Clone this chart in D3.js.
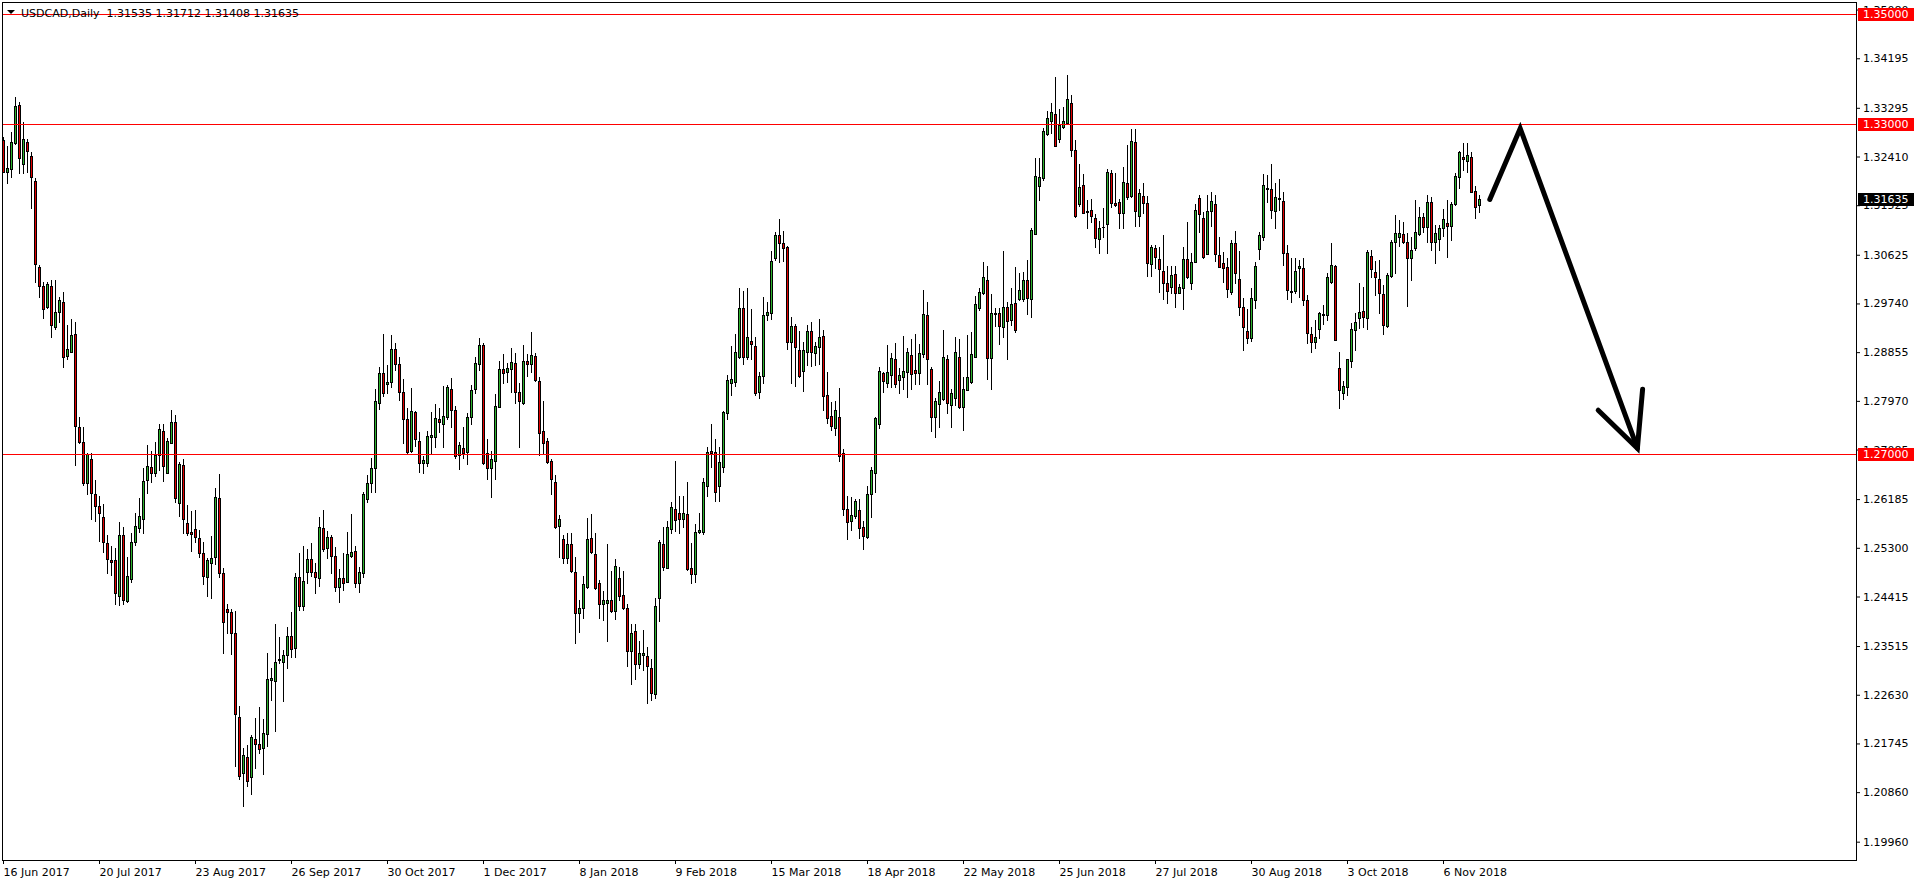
<!DOCTYPE html>
<html><head><meta charset="utf-8">
<script src="https://cdn.jsdelivr.net/npm/d3@7"></script>
<style>
html,body{margin:0;padding:0;background:#fff;}
svg{display:block;}
text{font-family:"DejaVu Sans",Verdana,sans-serif;font-size:11px;}
</style>
</head><body>
<svg id="chart" width="1916" height="884"></svg>
<script>
const symbolTitle = "USDCAD,Daily  1.31535 1.31712 1.31408 1.31635";
const dateLabels = ["16 Jun 2017","20 Jul 2017","23 Aug 2017","26 Sep 2017","30 Oct 2017","1 Dec 2017","8 Jan 2018","9 Feb 2018","15 Mar 2018","18 Apr 2018","22 May 2018","25 Jun 2018","27 Jul 2018","30 Aug 2018","3 Oct 2018","6 Nov 2018"];
const dateLabelBars = [0,24,48,72,96,120,144,168,192,216,240,264,288,312,336,360];
const priceTicks = [1.19960,1.20860,1.21745,1.22630,1.23515,1.24415,1.25300,1.26185,1.27085,1.27970,1.28855,1.29740,1.30625,1.31525,1.32410,1.33295,1.34195,1.35080];
const levelLines = [1.35000,1.33000,1.27000];
const lastPrice = 1.31635;

const open = [1.32710,1.32134,1.32177,1.32661,1.33346,1.32267,1.32667,1.32419,1.31959,1.30396,1.30057,1.29681,1.30057,1.29306,1.29578,1.29766,1.28779,1.28863,1.29184,1.27495,1.27216,1.26471,1.26913,1.26271,1.26059,1.25853,1.25381,1.25078,1.25078,1.24424,1.25532,1.24339,1.24727,1.25399,1.25665,1.25817,1.26532,1.26774,1.26665,1.26986,1.27422,1.26653,1.27210,1.27580,1.26108,1.26798,1.25744,1.25587,1.25635,1.25472,1.25199,1.24763,1.25017,1.25139,1.26199,1.24836,1.24182,1.24127,1.23745,1.22219,1.21202,1.21492,1.21129,1.21819,1.21728,1.21656,1.21910,1.22897,1.22885,1.23267,1.23219,1.23352,1.23697,1.23485,1.24763,1.24248,1.24854,1.25090,1.24854,1.24745,1.25653,1.25302,1.25490,1.25145,1.24581,1.24745,1.24684,1.25157,1.25242,1.24654,1.24848,1.26180,1.26471,1.26744,1.27925,1.28470,1.28270,1.28306,1.28906,1.28633,1.28125,1.27634,1.27065,1.27761,1.27240,1.26847,1.26835,1.27307,1.27319,1.27640,1.27549,1.27670,1.28179,1.27804,1.26986,1.27107,1.27047,1.27682,1.28179,1.28633,1.28985,1.27028,1.26756,1.26877,1.27864,1.28543,1.28500,1.28555,1.28664,1.28137,1.27925,1.28688,1.28633,1.28785,1.28331,1.27422,1.27240,1.26883,1.26489,1.25702,1.25460,1.25120,1.25369,1.24854,1.24109,1.24200,1.24593,1.25472,1.25181,1.24654,1.24272,1.24303,1.24351,1.24157,1.24745,1.24442,1.24200,1.23431,1.23788,1.23182,1.23358,1.23334,1.23109,1.22637,1.24381,1.25363,1.24939,1.25635,1.25999,1.25926,1.25823,1.25908,1.24927,1.24818,1.25593,1.25593,1.26423,1.27059,1.27035,1.26423,1.26774,1.27744,1.28301,1.28319,1.28773,1.29652,1.28761,1.29058,1.28967,1.28137,1.28428,1.29530,1.29573,1.30560,1.30984,1.30833,1.30760,1.29034,1.29331,1.28894,1.28519,1.28852,1.29240,1.28846,1.28955,1.29149,1.28077,1.27695,1.27483,1.27671,1.27017,1.25999,1.25793,1.25878,1.25987,1.25672,1.25490,1.26272,1.26665,1.27544,1.28470,1.28289,1.28440,1.28725,1.28349,1.28410,1.28489,1.28804,1.28531,1.28470,1.28822,1.29530,1.28543,1.27671,1.27913,1.28004,1.28725,1.27895,1.28028,1.28761,1.27865,1.28168,1.28319,1.28773,1.29652,1.29924,1.30166,1.28755,1.29561,1.29561,1.29306,1.29682,1.29440,1.29742,1.29815,1.29815,1.30166,1.29815,1.31002,1.31875,1.32014,1.32813,1.33062,1.33183,1.32729,1.32941,1.33013,1.33377,1.32529,1.31541,1.31887,1.31420,1.31438,1.31287,1.30905,1.31123,1.31178,1.32105,1.31560,1.31578,1.31378,1.31923,1.31699,1.32668,1.31335,1.31693,1.31560,1.30451,1.30742,1.30542,1.30330,1.30106,1.30045,1.30269,1.29936,1.30027,1.30542,1.30118,1.30500,1.31650,1.31287,1.30633,1.31426,1.31547,1.30621,1.30469,1.30397,1.29942,1.30833,1.30179,1.29670,1.29246,1.29106,1.29803,1.30724,1.30942,1.31832,1.31814,1.31420,1.31632,1.31602,1.30663,1.29954,1.29966,1.30378,1.30378,1.29803,1.29179,1.29046,1.29270,1.29524,1.29530,1.30136,1.30421,1.28561,1.28119,1.28216,1.28700,1.29258,1.29470,1.29603,1.29470,1.30602,1.30318,1.30178,1.29906,1.29336,1.30239,1.30851,1.30942,1.30996,1.30851,1.30560,1.30742,1.30996,1.31305,1.31135,1.31590,1.30851,1.30911,1.31117,1.31208,1.31154,1.31547,1.32044,1.32407,1.32335,1.32395,1.31783,1.31535];
const high = [1.32770,1.32601,1.32861,1.33485,1.33406,1.33043,1.32722,1.32498,1.32013,1.30438,1.30135,1.30135,1.30166,1.30166,1.29857,1.29942,1.29348,1.29451,1.29396,1.27682,1.27495,1.27016,1.27028,1.26532,1.26247,1.26095,1.25532,1.25332,1.25290,1.25774,1.25684,1.25138,1.25562,1.25938,1.26198,1.26743,1.27167,1.27059,1.27216,1.27543,1.27543,1.27289,1.27804,1.27713,1.26865,1.26907,1.26077,1.25968,1.25987,1.25623,1.25411,1.25120,1.25514,1.26392,1.26641,1.24939,1.24278,1.24182,1.24151,1.22425,1.21668,1.21716,1.21898,1.22213,1.22413,1.22189,1.23394,1.23109,1.23915,1.23685,1.23443,1.23867,1.24133,1.24836,1.25211,1.25332,1.25272,1.25393,1.25017,1.25865,1.25987,1.25611,1.25532,1.25308,1.24914,1.25211,1.25587,1.25914,1.25338,1.24957,1.26320,1.26623,1.26937,1.28179,1.28591,1.29185,1.28621,1.29166,1.29015,1.28773,1.28361,1.27834,1.28197,1.27791,1.27410,1.26968,1.27422,1.27761,1.27913,1.27834,1.28246,1.28258,1.28379,1.27882,1.27228,1.27489,1.27743,1.28258,1.28773,1.29106,1.29027,1.27277,1.27059,1.28094,1.28694,1.28821,1.28652,1.28924,1.28845,1.28288,1.28979,1.28821,1.29215,1.28833,1.28397,1.27967,1.27289,1.26907,1.26623,1.25896,1.25532,1.25563,1.25563,1.25139,1.24351,1.24787,1.25835,1.25914,1.25563,1.24715,1.24521,1.25369,1.24884,1.25096,1.24945,1.24884,1.24278,1.23915,1.23915,1.23612,1.23806,1.23503,1.23273,1.24381,1.25441,1.25672,1.25787,1.26138,1.26877,1.26241,1.26241,1.26489,1.25393,1.25732,1.25926,1.26562,1.27138,1.27550,1.27277,1.27126,1.27792,1.28440,1.28973,1.29185,1.30015,1.29966,1.30015,1.29639,1.29137,1.28501,1.29851,1.29773,1.30693,1.31045,1.31275,1.31057,1.30790,1.29488,1.29367,1.29246,1.29034,1.29349,1.29409,1.29046,1.29458,1.29258,1.28489,1.27956,1.27968,1.28198,1.27095,1.26241,1.26229,1.26187,1.26181,1.25793,1.26423,1.26774,1.27671,1.28592,1.28489,1.28985,1.28846,1.29016,1.28573,1.29149,1.28925,1.29094,1.29185,1.29003,1.29985,1.29761,1.28592,1.28028,1.28331,1.29258,1.28804,1.28180,1.29137,1.29088,1.28410,1.29167,1.29228,1.29882,1.30015,1.30487,1.30427,1.29912,1.29652,1.29652,1.30693,1.29761,1.30015,1.30409,1.30300,1.30318,1.30530,1.31117,1.32377,1.32389,1.32934,1.33237,1.33389,1.33855,1.33274,1.33316,1.33891,1.33528,1.32710,1.32274,1.32093,1.31620,1.31632,1.31366,1.31245,1.31469,1.32177,1.32165,1.32117,1.31632,1.32214,1.32620,1.32910,1.32910,1.31814,1.31923,1.31693,1.30802,1.30802,1.30760,1.30984,1.30427,1.30427,1.30421,1.30094,1.30760,1.31214,1.30651,1.31541,1.31711,1.31408,1.31711,1.31772,1.31711,1.30954,1.30681,1.30560,1.30893,1.31057,1.30693,1.29833,1.29633,1.30015,1.30499,1.31045,1.32092,1.32074,1.32274,1.31935,1.31995,1.31771,1.30802,1.30560,1.30560,1.30530,1.30560,1.29894,1.29318,1.29439,1.29591,1.29712,1.30287,1.30833,1.30439,1.28864,1.28337,1.28731,1.29379,1.29561,1.30106,1.30045,1.30711,1.30711,1.30512,1.30530,1.30075,1.30287,1.30893,1.31347,1.31257,1.31226,1.31026,1.30954,1.31620,1.31499,1.31378,1.31711,1.31681,1.31166,1.31166,1.31450,1.31620,1.31590,1.32117,1.32516,1.32650,1.32650,1.32498,1.31874,1.31712];
const low = [1.32122,1.31922,1.32043,1.32637,1.32104,1.32104,1.32134,1.31480,1.30135,1.29863,1.29469,1.29663,1.29136,1.29275,1.29409,1.28591,1.28724,1.28863,1.26804,1.27210,1.26441,1.26277,1.25817,1.25786,1.25423,1.25229,1.24836,1.24805,1.24272,1.24260,1.24272,1.24321,1.24684,1.25350,1.25593,1.25562,1.26289,1.26501,1.26610,1.26713,1.26520,1.26653,1.27198,1.26138,1.25878,1.25575,1.25532,1.25248,1.25411,1.25139,1.24642,1.24424,1.24394,1.25005,1.24763,1.23394,1.23758,1.23364,1.21341,1.21093,1.20614,1.20971,1.20820,1.21304,1.21565,1.21183,1.21698,1.22534,1.21977,1.23200,1.22522,1.23122,1.23309,1.23321,1.24169,1.24169,1.24666,1.24793,1.24472,1.24612,1.25242,1.25120,1.24836,1.24521,1.24321,1.24533,1.24684,1.25126,1.24581,1.24502,1.24763,1.26138,1.26320,1.26320,1.27816,1.28058,1.28119,1.28228,1.28530,1.27985,1.27198,1.27028,1.27047,1.27150,1.26683,1.26665,1.26792,1.27016,1.27137,1.27398,1.27137,1.27634,1.27489,1.26937,1.26725,1.26937,1.26816,1.27543,1.28106,1.28530,1.26822,1.26550,1.26229,1.26544,1.27852,1.28300,1.28319,1.28137,1.27925,1.27137,1.27913,1.28428,1.28500,1.28331,1.26986,1.27004,1.26847,1.26271,1.25666,1.25139,1.25017,1.25017,1.24854,1.23564,1.23776,1.24018,1.24575,1.25199,1.24545,1.24030,1.23988,1.23612,1.24139,1.24000,1.24351,1.24182,1.23158,1.22819,1.22916,1.23109,1.23079,1.22486,1.22534,1.22576,1.23976,1.24896,1.24927,1.25563,1.25611,1.25563,1.25684,1.24896,1.24654,1.24684,1.25563,1.25551,1.26241,1.26774,1.26157,1.26157,1.26684,1.27635,1.28077,1.28240,1.28743,1.28634,1.28725,1.28725,1.28077,1.28028,1.28301,1.29440,1.29452,1.30530,1.30487,1.30518,1.28907,1.28301,1.28246,1.28398,1.28155,1.28622,1.28610,1.28622,1.28634,1.27804,1.27574,1.27441,1.27350,1.26883,1.25896,1.25454,1.25624,1.25848,1.25484,1.25272,1.25472,1.25854,1.26320,1.27483,1.28137,1.28216,1.28216,1.28216,1.28107,1.28186,1.28046,1.28186,1.28271,1.28271,1.28773,1.28271,1.27429,1.27307,1.27501,1.27986,1.27744,1.27501,1.27895,1.27834,1.27441,1.28168,1.28301,1.28773,1.29621,1.29906,1.28361,1.28186,1.29331,1.29003,1.29137,1.28725,1.29349,1.29228,1.29803,1.29791,1.29549,1.29500,1.31002,1.31620,1.31984,1.32801,1.32844,1.32607,1.32680,1.32922,1.33013,1.32426,1.31317,1.31517,1.31378,1.31117,1.31226,1.30772,1.30663,1.30954,1.30651,1.31499,1.31517,1.31105,1.31117,1.31632,1.31681,1.31154,1.31154,1.31378,1.30245,1.30245,1.30378,1.29954,1.29815,1.29755,1.29924,1.29682,1.29924,1.29633,1.30197,1.30003,1.30488,1.31045,1.30572,1.30633,1.31148,1.30518,1.30397,1.30136,1.29864,1.29906,1.30118,1.29530,1.28894,1.29028,1.29064,1.29651,1.30542,1.30893,1.31590,1.31287,1.31105,1.31438,1.30439,1.29815,1.29773,1.29936,1.29863,1.29712,1.29015,1.28864,1.28925,1.29106,1.29367,1.29439,1.30106,1.29076,1.27834,1.27998,1.28077,1.28591,1.28894,1.29288,1.29318,1.29270,1.30227,1.29894,1.29561,1.29179,1.29318,1.30227,1.30287,1.30790,1.30833,1.29700,1.30166,1.30711,1.30984,1.31045,1.30863,1.30711,1.30481,1.30711,1.30966,1.30578,1.30893,1.31529,1.31832,1.32165,1.32135,1.31759,1.31287,1.31408];
const close = [1.32134,1.32195,1.32679,1.33327,1.32376,1.32722,1.32510,1.32031,1.30450,1.30051,1.29633,1.30087,1.29348,1.29578,1.29796,1.28760,1.28906,1.29166,1.27519,1.27228,1.26483,1.26998,1.26289,1.26059,1.25926,1.25399,1.25090,1.25048,1.24472,1.25532,1.24351,1.24787,1.25399,1.25696,1.25877,1.26513,1.26786,1.26665,1.26986,1.27452,1.26792,1.27240,1.27580,1.26199,1.26816,1.25823,1.25575,1.25544,1.25502,1.25199,1.24793,1.25078,1.25108,1.26217,1.24848,1.23957,1.24139,1.23745,1.22274,1.21159,1.21535,1.21068,1.21856,1.21735,1.21638,1.21928,1.22910,1.22928,1.23219,1.23279,1.23352,1.23697,1.23455,1.24763,1.24248,1.24696,1.25090,1.24854,1.24763,1.25672,1.25284,1.25490,1.25157,1.24593,1.24745,1.24654,1.25187,1.25217,1.24666,1.24854,1.26277,1.26471,1.26744,1.27967,1.28470,1.28106,1.28312,1.28906,1.28633,1.28125,1.27634,1.27047,1.27785,1.27271,1.26835,1.26895,1.27331,1.27349,1.27652,1.27580,1.27689,1.28216,1.27804,1.26968,1.27162,1.27016,1.27682,1.28167,1.28652,1.28985,1.26835,1.26744,1.26907,1.27876,1.28543,1.28482,1.28561,1.28676,1.28137,1.27973,1.28700,1.28633,1.28803,1.28349,1.27392,1.27198,1.26865,1.26544,1.25672,1.25817,1.25120,1.25369,1.24884,1.24121,1.24200,1.24636,1.25460,1.25217,1.24575,1.24278,1.24351,1.24351,1.24157,1.24969,1.24430,1.24200,1.23431,1.23745,1.23182,1.23394,1.23382,1.23152,1.22667,1.24242,1.25399,1.24945,1.25672,1.26035,1.25805,1.25823,1.25926,1.24908,1.24818,1.25581,1.25624,1.26490,1.27035,1.27017,1.26308,1.26853,1.27774,1.28349,1.28367,1.28852,1.29652,1.28773,1.29125,1.28997,1.28119,1.28422,1.29530,1.29579,1.30512,1.30984,1.30833,1.30742,1.29046,1.29331,1.28955,1.28428,1.28894,1.29240,1.28864,1.28967,1.29137,1.28065,1.27653,1.27519,1.27804,1.26974,1.25999,1.25775,1.25896,1.26151,1.25654,1.25521,1.26272,1.26714,1.27653,1.28513,1.28331,1.28489,1.28743,1.28277,1.28440,1.28513,1.28852,1.28458,1.28470,1.28834,1.29542,1.28725,1.27683,1.27968,1.28125,1.28761,1.27925,1.28107,1.28852,1.27865,1.28180,1.28398,1.28816,1.29724,1.29942,1.30215,1.28755,1.29561,1.29542,1.29337,1.29670,1.29427,1.29730,1.29258,1.29985,1.30166,1.29833,1.31075,1.32062,1.32032,1.32874,1.33104,1.33213,1.32607,1.32983,1.33056,1.33455,1.32529,1.31335,1.31850,1.31390,1.31396,1.31335,1.30924,1.31105,1.31136,1.32123,1.31572,1.31529,1.31378,1.31941,1.31681,1.32692,1.31426,1.31741,1.31560,1.30469,1.30772,1.30590,1.30360,1.30118,1.29973,1.30257,1.29924,1.30033,1.30542,1.30227,1.30500,1.31438,1.31360,1.30578,1.31420,1.31602,1.30633,1.30409,1.30391,1.29997,1.30833,1.30288,1.29670,1.29306,1.29106,1.29833,1.30421,1.30984,1.31893,1.31814,1.31438,1.31668,1.31650,1.30663,1.29985,1.29972,1.30330,1.30421,1.29803,1.29197,1.29046,1.29124,1.29561,1.29542,1.30215,1.30439,1.29076,1.28167,1.28240,1.28725,1.29270,1.29397,1.29591,1.29488,1.30681,1.30360,1.30215,1.29924,1.29349,1.30257,1.30863,1.31014,1.31014,1.30851,1.30560,1.30711,1.31045,1.31305,1.31135,1.31590,1.30863,1.31026,1.31105,1.31269,1.31154,1.31547,1.32062,1.32498,1.32359,1.32438,1.31771,1.31487,1.31635];

// hand-drawn forecast arrow, in (bar index, price)
const arrowPath = [{bar:371.7, price:1.3163},{bar:379.3, price:1.3292},{bar:408.6, price:1.2711}];
const arrowHead = [{bar:398.8, price:1.2780},{bar:408.6, price:1.2711},{bar:409.9, price:1.2818}];

const W = 1916, H = 884;
const plotL = 2, plotT = 2, plotR = 1856, plotB = 860;
const bullColor = "#2DB22D", bearColor = "#E00000", levelColor = "#FF0000";

const svg = d3.select("#chart");
svg.append("rect").attr("width", W).attr("height", H).attr("fill", "#fff");

const x = d3.scaleLinear().domain([0, 463.25]).range([3, plotR]);
const y = d3.scaleLinear().domain([1.19627, 1.35254]).range([plotB, 0]);

svg.append("clipPath").attr("id", "plotClip")
  .append("rect").attr("x", plotL + 1).attr("y", plotT + 1)
  .attr("width", plotR - plotL - 1).attr("height", plotB - plotT - 1);

const plot = svg.append("g").attr("clip-path", "url(#plotClip)").attr("shape-rendering", "crispEdges");

const idx = d3.range(open.length);
const candles = plot.selectAll("g.candle").data(idx).join("g").attr("class", "candle");
candles.each(function(i) {
  const g = d3.select(this);
  const cx = Math.round(x(i));
  const yH = Math.round(y(high[i])), yL = Math.round(y(low[i]));
  const yO = Math.round(y(open[i])), yC = Math.round(y(close[i]));
  const top = Math.min(yO, yC), bot = Math.max(yO, yC);
  g.append("rect").attr("x", cx).attr("y", yH).attr("width", 1).attr("height", yL - yH + 1).attr("fill", "#000");
  g.append("rect").attr("x", cx - 1).attr("y", top).attr("width", 3).attr("height", bot - top + 1).attr("fill", "#000");
  if (bot - top > 1) {
    g.append("rect").attr("x", cx).attr("y", top + 1).attr("width", 1).attr("height", bot - top - 1)
      .attr("fill", close[i] >= open[i] ? bullColor : bearColor);
  }
});

// horizontal level lines
plot.selectAll("line.level").data(levelLines).join("line").attr("class", "level")
  .attr("x1", plotL).attr("x2", plotR)
  .attr("y1", d => Math.round(y(d)) + 0.5).attr("y2", d => Math.round(y(d)) + 0.5)
  .attr("stroke", levelColor).attr("stroke-width", 1);

// forecast arrow
const arrowLine = d3.line().x(d => x(d.bar)).y(d => y(d.price));
const arrowG = svg.append("g");
[arrowPath, arrowHead].forEach(pts => {
  arrowG.append("path").attr("d", arrowLine(pts)).attr("fill", "none")
    .attr("stroke", "#000").attr("stroke-width", 5)
    .attr("stroke-linecap", "round").attr("stroke-linejoin", "miter");
});

// frame
svg.append("rect").attr("x", plotL + 0.5).attr("y", plotT + 0.5)
  .attr("width", plotR - plotL).attr("height", plotB - plotT)
  .attr("fill", "none").attr("stroke", "#000").attr("stroke-width", 1);

// right price axis
const yAxis = d3.axisRight(y).tickValues(priceTicks).tickFormat(d3.format(".5f")).tickSize(4).tickPadding(3);
const yg = svg.append("g").attr("transform", `translate(${plotR},0)`).call(yAxis);
yg.select(".domain").remove();
yg.selectAll("text").attr("font-family", "DejaVu Sans").attr("font-size", 11).attr("fill", "#000");
yg.selectAll("line").attr("stroke", "#000");

// bottom date axis
const xAxis = d3.axisBottom(x).tickValues(dateLabelBars).tickFormat((d, i) => dateLabels[i]).tickSize(4).tickPadding(4);
const xg = svg.append("g").attr("transform", `translate(0,${plotB})`).call(xAxis);
xg.select(".domain").remove();
xg.selectAll("text").attr("text-anchor", "start").attr("x", 0)
  .attr("font-family", "DejaVu Sans").attr("font-size", 11).attr("fill", "#000");
xg.selectAll("line").attr("stroke", "#000");

// price labels on the axis
function axisLabel(p, bg) {
  const yy = Math.round(y(p));
  const g = svg.append("g");
  g.append("rect").attr("x", plotR + 2).attr("y", yy - 6).attr("width", 56).attr("height", 13).attr("fill", bg);
  g.append("text").attr("x", plotR + 7).attr("y", yy).attr("dy", "0.36em")
    .attr("fill", "#fff").attr("font-size", 11).text(d3.format(".5f")(p));
}
levelLines.forEach(p => axisLabel(p, levelColor));
axisLabel(lastPrice, "#000");

// title
svg.append("path").attr("d", "M7,10 L15,10 L11,14 Z").attr("fill", "#000");
svg.append("text").attr("x", 21).attr("y", 17).attr("fill", "#000").attr("font-size", 11)
  .attr("xml:space", "preserve").style("white-space", "pre").text(symbolTitle);
</script>
</body></html>
